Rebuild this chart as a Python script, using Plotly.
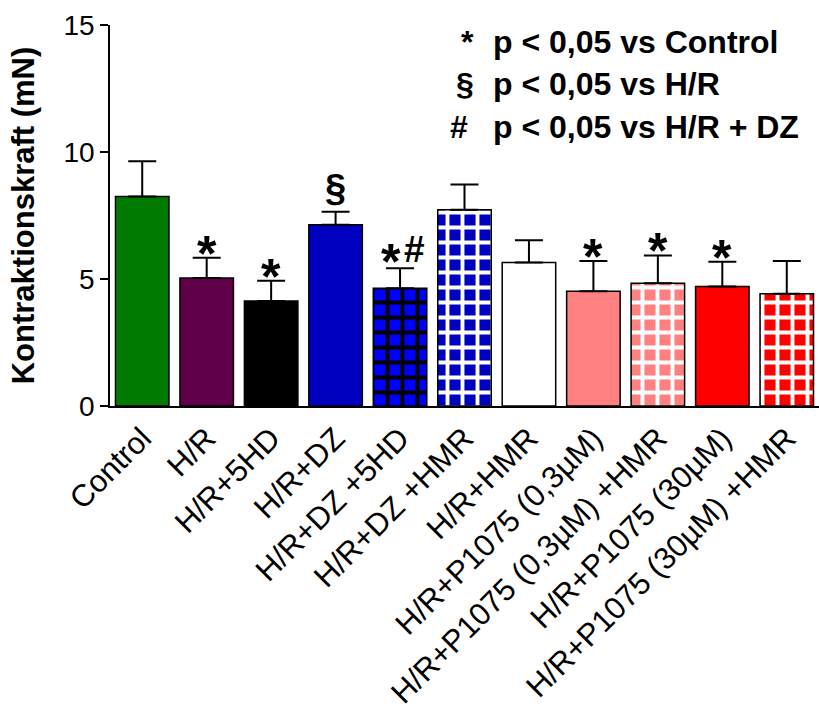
import plotly.graph_objects as go

categories = ["Control", "H/R", "H/R+5HD", "H/R+DZ", "H/R+DZ +5HD", "H/R+DZ +HMR",
              "H/R+HMR", "H/R+P1075 (0,3µM)", "H/R+P1075 (0,3µM) +HMR",
              "H/R+P1075 (30µM)", "H/R+P1075 (30µM) +HMR"]
means = [8.25, 5.04, 4.13, 7.14, 4.64, 7.73, 5.65, 4.52, 4.83, 4.70, 4.42]
sem = [1.39, 0.80, 0.80, 0.51, 0.78, 0.99, 0.88, 1.19, 1.10, 0.98, 1.29]
signif = ["", "*", "*", "§", "*#", "", "", "*", "*", "*", ""]

colors = ["#007A00", "#600048", "#000000", "#0000C0", "#0000FF", "#0000C0",
          "#FFFFFF", "#FF8080", "#FF8080", "#FF0000", "#FF0000"]
patterns = ["", "", "", "", "+", "+", "", "", "+", "", "+"]
pat_fg = ["", "", "", "", "#000000", "#FFFFFF", "", "", "#FFFFFF", "", "#FFFFFF"]

FONT = "Liberation Sans, Arial"
fig = go.Figure()
for cat, m, s, col, pat, fg in zip(categories, means, sem, colors, patterns, pat_fg):
    marker = dict(color=col, line=dict(color="black", width=1.5))
    if pat:
        marker["pattern"] = dict(shape=pat, fgcolor=fg, bgcolor=col, size=15,
                                 solidity=0.45, fillmode="replace")
    fig.add_trace(go.Bar(
        x=[cat], y=[m], marker=marker, width=0.83, showlegend=False,
        error_y=dict(type="data", symmetric=False, array=[s], arrayminus=[0],
                     color="black", thickness=2, width=14),
    ))


def mark(cat, y, text, size, yshift, xshift=0):
    fig.add_annotation(x=cat, y=y, text=f"<b>{text}</b>", showarrow=False,
                       yanchor="bottom", yshift=yshift, xshift=xshift,
                       font=dict(size=size, color="black", family=FONT))


for cat, m, s, sig in zip(categories, means, sem, signif):
    if not sig:
        continue
    if sig == "§":
        mark(cat, m + s, sig, 38, 1)
    elif sig == "*#":
        mark(cat, m + s, "*", 50, -24, xshift=-9)
        mark(cat, m + s, "#", 37, -4, xshift=14)
    else:
        mark(cat, m + s, sig, 50, -26)

legend_lines = [("*", "p < 0,05 vs Control", 42),
                ("§", "p < 0,05 vs H/R", 84),
                ("#", "p < 0,05 vs H/R + DZ", 127)]
sym_x = [467, 465, 459]
for (sym, txt, py), sx in zip(legend_lines, sym_x):
    yp = (406.5 - py) / 381.5
    fig.add_annotation(x=(sx - 110) / 709, y=yp, xref="paper", yref="paper",
                       text=f"<b>{sym}</b>", showarrow=False, xanchor="center", yanchor="middle",
                       font=dict(size=32, color="black", family=FONT))
    fig.add_annotation(x=(491 - 110) / 709, y=yp, xref="paper", yref="paper",
                       text=f"<b>{txt}</b>", showarrow=False, xanchor="left", yanchor="middle",
                       font=dict(size=32, color="black", family=FONT))

fig.update_layout(
    width=819, height=709,
    margin=dict(l=110, r=0, t=25, b=302.5),
    plot_bgcolor="white", paper_bgcolor="white",
    font=dict(family=FONT, color="black"),
    barmode="overlay",
)
fig.update_yaxes(range=[0, 15], tickvals=[0, 5, 10, 15], showline=True, linecolor="black",
                 linewidth=1.5, ticks="outside", ticklen=8, tickwidth=1.5, tickcolor="black",
                 showgrid=False, zeroline=False, tickfont=dict(size=28),
                 title=dict(text="<b>Kontraktionskraft (mN)</b>", font=dict(size=31), standoff=20))
fig.update_xaxes(showline=True, linecolor="black", linewidth=1.5, ticks="", tickangle=-45,
                 tickfont=dict(size=31), showgrid=False, range=[-0.5, 10.5],
                 categoryorder="array", categoryarray=categories)

fig.write_html("out.html")
